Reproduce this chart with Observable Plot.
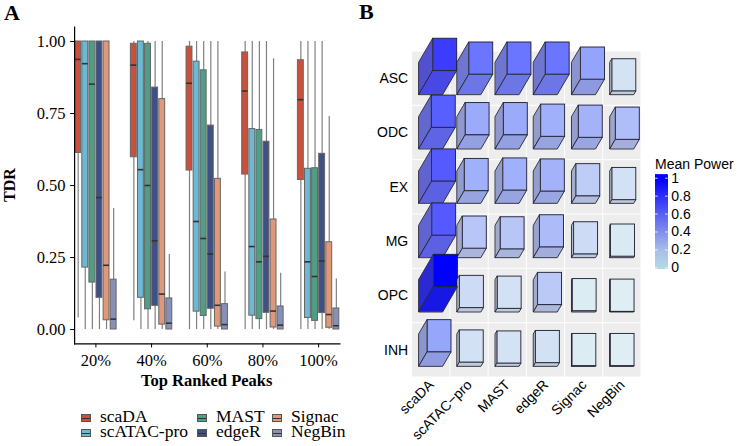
<!DOCTYPE html>
<html><head><meta charset="utf-8">
<script src="https://cdn.jsdelivr.net/npm/d3@7"></script>
<script src="https://cdn.jsdelivr.net/npm/@observablehq/plot@0.6"></script>
<style>
html,body{margin:0;padding:0;background:#fff}
#root{position:relative;width:739px;height:446px;overflow:hidden}
#root>svg,#root>div{position:absolute}
.serif{font-family:"Liberation Serif",serif;color:#000}
.sans{font-family:"Liberation Sans",Arial,sans-serif;color:#000}
.key{display:inline-block;position:relative;width:10px;height:8px;border:1px solid #555;margin-right:9px;top:0;box-sizing:border-box}
.key:before{content:"";position:absolute;left:3.5px;top:-3px;height:12px;width:1px;background:#777;z-index:-1}
.key:after{content:"";position:absolute;left:0;right:0;top:2.5px;height:1px;background:#333}
#legendA{display:grid;grid-template-columns:116px 75px auto;font-size:17.5px;line-height:15px;white-space:nowrap}
</style></head><body><div id="root"></div>
<script>
// Panel A
const peaks = ["20%","40%","60%","80%","100%"];
const methods = ["scaDA","scATAC-pro","MAST","edgeR","Signac","NegBin"];
const methodColors = ["#C9503B","#6DB8D2","#4F9E86","#3E5084","#E0987B","#8890B8"];
const q1 = {scaDA:[.613,.598,.552,.538,.519],"scATAC-pro":[.215,.11,.062,.048,.04],MAST:[.163,.07,.047,.036,.03],edgeR:[.11,.082,.072,.058,.057],Signac:[.032,.017,.01,.007,.006],NegBin:[0,0,0,0,0]};
const med = {scaDA:[.938,.918,.855,.828,.798],"scATAC-pro":[.923,.555,.375,.288,.235],MAST:[.852,.5,.316,.235,.184],edgeR:[.458,.308,.262,.254,.238],Signac:[.223,.123,.084,.064,.052],NegBin:[.036,.022,.017,.015,.013]};
const q3 = {scaDA:[1,.992,.982,.962,.935],"scATAC-pro":[1,1,.93,.696,.558],MAST:[1,.992,.9,.693,.56],edgeR:[1,.84,.708,.652,.61],Signac:[1,.8,.523,.382,.303],NegBin:[.173,.108,.088,.08,.073]};
const lo = {scaDA:[.04,.03,0,0,0],"scATAC-pro":[0,0,0,0,0],MAST:[0,0,0,0,0],edgeR:[0,0,0,0,0],Signac:[0,0,0,0,0],NegBin:[0,0,0,0,0]};
const hi = {scaDA:[1,1,1,1,1],"scATAC-pro":[1,1,1,1,1],MAST:[1,1,1,1,1],edgeR:[1,1,1,1,1],Signac:[1,1,1,.94,.74],NegBin:[.42,.26,.2,.195,.175]};
const boxes = methods.flatMap(m => peaks.map((p,i)=>({m,p,q1:q1[m][i],med:med[m][i],q3:q3[m][i],lo:lo[m][i],hi:hi[m][i]})));

// Panel B
const cellTypes = ["ASC","ODC","EX","MG","OPC","INH"];
const powerMethods = ["scaDA","scATAC−pro","MAST","edgeR","Signac","NegBin"];
const meanPower = [
 [.75,.5,.5,.5,.33,.05],
 [.6,.3,.3,.28,.27,.22],
 [.62,.28,.28,.27,.14,.06],
 [.62,.18,.18,.23,.08,.02],
 [1,.08,.06,.16,.01,0],
 [.32,.06,.05,.06,.01,0]];
const barDepth = [
 [.95,.8,.8,.8,.6,.13],
 [.85,.55,.55,.49,.45,.37],
 [.87,.49,.51,.47,.28,.13],
 [.88,.36,.33,.41,.13,.04],
 [1,.16,.13,.28,.03,.01],
 [.56,.15,.11,.13,.01,.01]];
const legendTicks = [0,.2,.4,.6,.8,1];

const root = document.getElementById("root");
const serif = '"Liberation Serif",serif', sans = '"Liberation Sans",Arial,sans-serif';

const A = Plot.plot({
  width:360,height:400,marginLeft:62,marginRight:8.5,marginTop:26.6,marginBottom:56.6,
  style:{background:"transparent",fontFamily:serif,color:"#000"},
  y:{domain:[-.05,1.05]},
  x:{domain:methods,padding:0,round:false,axis:null},
  fx:{domain:peaks,paddingInner:.235,paddingOuter:.2175,round:false,label:null},
  color:{domain:methods,range:methodColors},
  marks:[
    Plot.axisY({ticks:[0,.25,.5,.75,1],tickFormat:".2f",label:null,fontSize:16.5,tickSize:4,tickPadding:5,strokeWidth:1}),
    Plot.axisFx({anchor:"bottom",label:null,fontSize:16.5,tickSize:4,tickPadding:6,strokeWidth:1}),
    Plot.ruleX(boxes,{x:"m",fx:"p",y1:"lo",y2:"hi",stroke:"#808080",strokeWidth:1.2}),
    Plot.barY(boxes,{x:"m",fx:"p",y1:"q1",y2:"q3",fill:"m",stroke:"#666",strokeWidth:1,insetLeft:.6,insetRight:.6}),
    Plot.tickY(boxes,{x:"m",fx:"p",y:"med",stroke:"#333",strokeWidth:1.6,insetLeft:.6,insetRight:.6}),
    Plot.frame({anchor:"left",facet:"super",stroke:"#000",strokeWidth:1.2}),
    Plot.frame({anchor:"bottom",facet:"super",stroke:"#000",strokeWidth:1.2})
  ]
});
A.style.left="0px";A.style.top="0px";root.append(A);

// cell geometry in column/row units
const W = 24/38.2, H = 32.3/54.3, DX = 14.6/38.2, DY = 25/54.3;
const cells = cellTypes.flatMap((t,r)=>powerMethods.map((m,c)=>{
  const x0=c+(1-W)/2, y0=r+1-(1-H)/2, d=barDepth[r][c];
  return {r,c,v:meanPower[r][c],x0,x1:x0+W,y0,y1:y0-H,dx:d*DX,dy:d*DY};
}));
const leftFace = d => [
  {id:d.r*10+d.c,x:d.x0,lo:d.y0,hi:d.y1},
  {id:d.r*10+d.c,x:d.x0+d.dx,lo:d.y0-d.dy,hi:d.y1-d.dy}];
const bottomFace = d => [
  {id:d.r*10+d.c,y:d.y0,a:d.x0,b:d.x1},
  {id:d.r*10+d.c,y:d.y0-d.dy,a:d.x0+d.dx,b:d.x1+d.dx}];
const barStroke={stroke:"#1c1c2e",strokeWidth:.9};
const rowMarks = cellTypes.flatMap((t,r)=>{
  const row=cells.filter(d=>d.r===r);
  const L=row.flatMap(d=>leftFace(d).map(p=>({...p,v:d.v})));
  const B=row.flatMap(d=>bottomFace(d).map(p=>({...p,v:d.v})));
  return [
    Plot.rect(row,{x1:d=>d.x0+d.dx,x2:d=>d.x1+d.dx,y1:d=>d.y0-d.dy,y2:d=>d.y1-d.dy,fill:"v",...barStroke}),
    Plot.areaY(L,{x:"x",y1:"lo",y2:"hi",z:"id",fill:"v",...barStroke}),
    Plot.areaY(L,{x:"x",y1:"lo",y2:"hi",z:"id",fill:"#777",fillOpacity:.35}),
    Plot.areaX(B,{y:"y",x1:"a",x2:"b",z:"id",fill:"v",...barStroke}),
    Plot.areaX(B,{y:"y",x1:"a",x2:"b",z:"id",fill:"#777",fillOpacity:.2})
  ];
});
const grid = cellTypes.flatMap((t,r)=>powerMethods.map((m,c)=>({r,c})));
const B = Plot.plot({
  width:379,height:446,marginLeft:51.7,marginRight:98,marginTop:51,marginBottom:69,
  style:{background:"transparent",fontFamily:sans,color:"#000",overflow:"visible"},
  x:{domain:[0,6]},
  y:{domain:[6,0]},
  color:{type:"linear",domain:[0,.06,.14,.22,.3,.5,.75,1],
    range:["#DEEEF3","#D2E1F3","#BECDF5","#AFBDF8","#9BABFA","#6A76FF","#3C3CFF","#0000FF"]},
  marks:[
    Plot.rect(grid,{x1:"c",x2:d=>d.c+1,y1:"r",y2:d=>d.r+1,fill:"#EDEDED",inset:.5}),
    Plot.axisX({ticks:d3.range(6).map(i=>i+.5),tickFormat:v=>powerMethods[Math.floor(v)],tickSize:0,tickPadding:5,tickRotate:-45,fontSize:14,label:null,anchor:"bottom"}),
    Plot.axisY({ticks:d3.range(6).map(i=>i+.5),tickFormat:v=>cellTypes[Math.floor(v)],tickSize:0,tickPadding:4,fontSize:14,label:null}),
    ...rowMarks
  ]
});
B.style.left="360px";B.style.top="0px";root.append(B);

// colour bar
const rampSteps=d3.range(0,1.02,.01);
const bar = Plot.plot({
  width:85,height:107,marginLeft:0,marginRight:72.3,marginTop:5,marginBottom:8,
  style:{background:"transparent",fontFamily:sans,color:"#000",overflow:"visible"},
  x:{domain:[0,1],axis:null},
  y:{domain:[-.018,1.03]},
  color:{type:"linear",domain:[0,.2,.4,.6,.8,1],range:["#B4DAE6","#A9BEE8","#8290EE","#5A62F4","#2E30FA","#0000FF"]},
  marks:[
    Plot.rect(rampSteps,{x1:0,x2:1,y1:d=>d-.018,y2:d=>d+.03,fill:d=>d}),
    Plot.tickY(legendTicks,{y:d=>d,stroke:"#fff",strokeOpacity:.8,insetRight:10}),
    Plot.tickY(legendTicks,{y:d=>d,stroke:"#fff",strokeOpacity:.8,insetLeft:10}),
    Plot.axisY({anchor:"right",ticks:legendTicks,tickFormat:d=>String(d),tickSize:0,tickPadding:3,fontSize:14,label:null})
  ]
});
bar.style.left="655px";bar.style.top="170px";root.append(bar);

function html(cls,txt,css){const d=document.createElement("div");d.className=cls;d.textContent=txt;d.style.cssText=css;root.append(d);return d;}
html("serif","A","left:4px;top:0px;font-size:22px;font-weight:bold;");
html("serif","B","left:359px;top:-1px;font-size:22px;font-weight:bold;");
html("serif","TDR","left:10px;top:185px;font-size:16px;font-weight:bold;transform:translate(-50%,-50%) rotate(-90deg);");
html("serif","Top Ranked Peaks","left:206.7px;top:371px;font-size:16.5px;font-weight:bold;transform:translateX(-50%);white-space:nowrap;");
html("sans","Mean Power","left:655px;top:156px;font-size:14px;white-space:nowrap;");

const lg=document.createElement("div");lg.id="legendA";lg.className="serif";lg.style.cssText="left:81px;top:409px;";
[0,2,4,1,3,5].forEach(i=>{
  const e=document.createElement("div");
  const k=document.createElement("span");k.className="key";k.style.background=methodColors[i];
  e.append(k,document.createTextNode(methods[i]));lg.append(e);
});
root.append(lg);
</script></body></html>
